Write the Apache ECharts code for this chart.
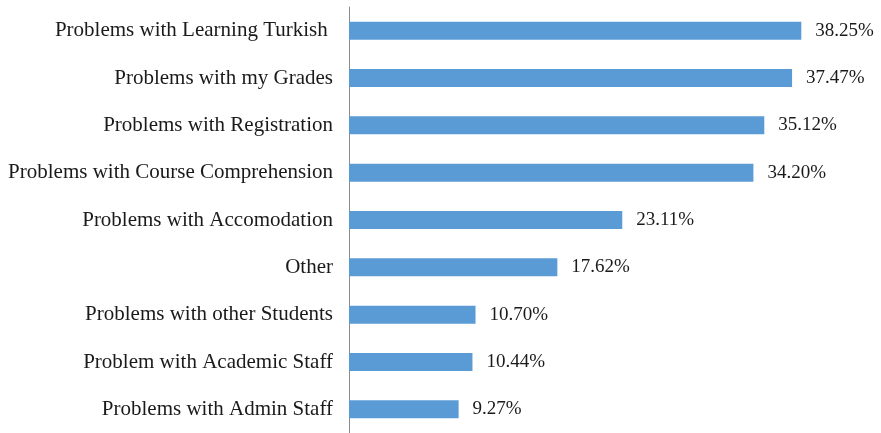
<!DOCTYPE html>
<html>
<head>
<meta charset="utf-8">
<script src="https://cdn.jsdelivr.net/npm/echarts@6/dist/echarts.min.js"></script>
<style>
  html, body { margin: 0; padding: 0; background: #fff; }
  #chart { width: 881px; height: 433px; }
</style>
</head>
<body>
<div id="chart"></div>
<script>
// 类别（从上到下）
var categories = [
  "Problems with Learning Turkish ",
  "Problems with my Grades",
  "Problems with Registration",
  "Problems with Course Comprehension",
  "Problems with Accomodation",
  "Other",
  "Problems with other Students",
  "Problem with Academic Staff",
  "Problems with Admin Staff"
];
// 百分比
var values = [38.25, 37.47, 35.12, 34.20, 23.11, 17.62, 10.70, 10.44, 9.27];

(function () {
  var myChart = echarts.init(document.getElementById("chart"));
  var option = {
    animation: false,
    grid: {
      left: 349,
      right: 59,
      top: 7,
      bottom: 0
    },
    xAxis: {
      type: "value",
      min: 0,
      max: 40,
      show: false
    },
    yAxis: {
      type: "category",
      inverse: true,
      data: categories,
      axisTick: { show: false },
      axisLine: {
        lineStyle: { color: "#8c8c8c", width: 1 }
      },
      axisLabel: {
        color: "#1a1a1a",
        fontFamily: "Liberation Serif",
        fontSize: 21,
        margin: 16
      }
    },
    series: [{
      type: "bar",
      data: values,
      barWidth: 18,
      itemStyle: { color: "#5b9bd5" },
      label: {
        show: true,
        position: "right",
        distance: 14,
        color: "#1a1a1a",
        fontFamily: "Liberation Serif",
        fontSize: 19,
        formatter: function (p) {
          return p.value.toFixed(2) + "%";
        }
      }
    }]
  };
  myChart.setOption(option);
})();
</script>
</body>
</html>
